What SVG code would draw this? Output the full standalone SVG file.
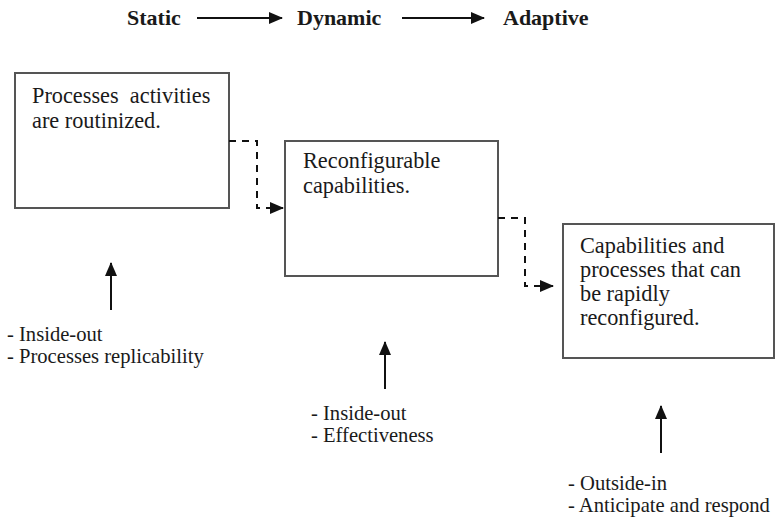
<svg xmlns="http://www.w3.org/2000/svg" width="775" height="521" viewBox="0 0 775 521">
  <style>
    .box { fill: #ffffff; stroke: #555555; stroke-width: 2; }
    .txt { font-family: 'Liberation Serif', 'DejaVu Serif', serif; font-size: 22.3px; fill: #1a1a1a; }
    .lbl { font-family: 'Liberation Serif', 'DejaVu Serif', serif; font-size: 20.6px; fill: #1a1a1a; }
    .hdr { font-family: 'Liberation Serif', 'DejaVu Serif', serif; font-size: 22px; font-weight: bold; fill: #1a1a1a; }
    .solid { fill: none; stroke: #111111; stroke-width: 2; }
    .dash { fill: none; stroke: #111111; stroke-width: 2; stroke-dasharray: 7 6; }
  </style>
  <defs>
    <marker id="ah" markerUnits="userSpaceOnUse" markerWidth="14" markerHeight="12" refX="13" refY="6" orient="auto">
      <path d="M0,0 L14,6 L0,12 Z" fill="#111111"/>
    </marker>
  </defs>
  <rect width="775" height="521" fill="#ffffff"/>

  <g id="header">
    <text class="hdr" x="127" y="25">Static</text>
    <text class="hdr" x="297" y="25">Dynamic</text>
    <text class="hdr" x="503" y="25">Adaptive</text>
  </g>

  <g id="node-static">
    <rect class="box" x="15" y="73" width="214" height="135"/>
    <text class="txt" x="32" y="103" xml:space="preserve">Processes  activities</text>
    <text class="txt" x="32" y="128">are routinized.</text>
  </g>

  <g id="node-dynamic">
    <rect class="box" x="285" y="141" width="213" height="135"/>
    <text class="txt" x="303" y="168">Reconfigurable</text>
    <text class="txt" x="303" y="193">capabilities.</text>
  </g>

  <g id="node-adaptive">
    <rect class="box" x="563" y="224" width="211" height="134"/>
    <text class="txt" x="580" y="253">Capabilities and</text>
    <text class="txt" x="580" y="277">processes that can</text>
    <text class="txt" x="580" y="301">be rapidly</text>
    <text class="txt" x="580" y="325">reconfigured.</text>
  </g>

  <g id="label-static">
    <text class="lbl" x="7" y="341">- Inside-out</text>
    <text class="lbl" x="7" y="363">- Processes replicability</text>
  </g>

  <g id="label-dynamic">
    <text class="lbl" x="311" y="420">- Inside-out</text>
    <text class="lbl" x="311" y="442">- Effectiveness</text>
  </g>

  <g id="label-adaptive">
    <text class="lbl" x="568" y="490">- Outside-in</text>
    <text class="lbl" x="568" y="512">- Anticipate and respond</text>
  </g>

  <g id="connectors">
    <line class="solid" x1="197" y1="18" x2="282" y2="18" marker-end="url(#ah)"/>
    <line class="solid" x1="402" y1="18" x2="484" y2="18" marker-end="url(#ah)"/>
    <path class="dash" d="M229,141 H257 V208 H283" marker-end="url(#ah)"/>
    <path class="dash" d="M498,218 H525 V286 H553" marker-end="url(#ah)"/>
    <line class="solid" x1="111" y1="310" x2="111" y2="263" marker-end="url(#ah)"/>
    <line class="solid" x1="385" y1="389" x2="385" y2="342" marker-end="url(#ah)"/>
    <line class="solid" x1="661" y1="453" x2="661" y2="406" marker-end="url(#ah)"/>
  </g>
</svg>
